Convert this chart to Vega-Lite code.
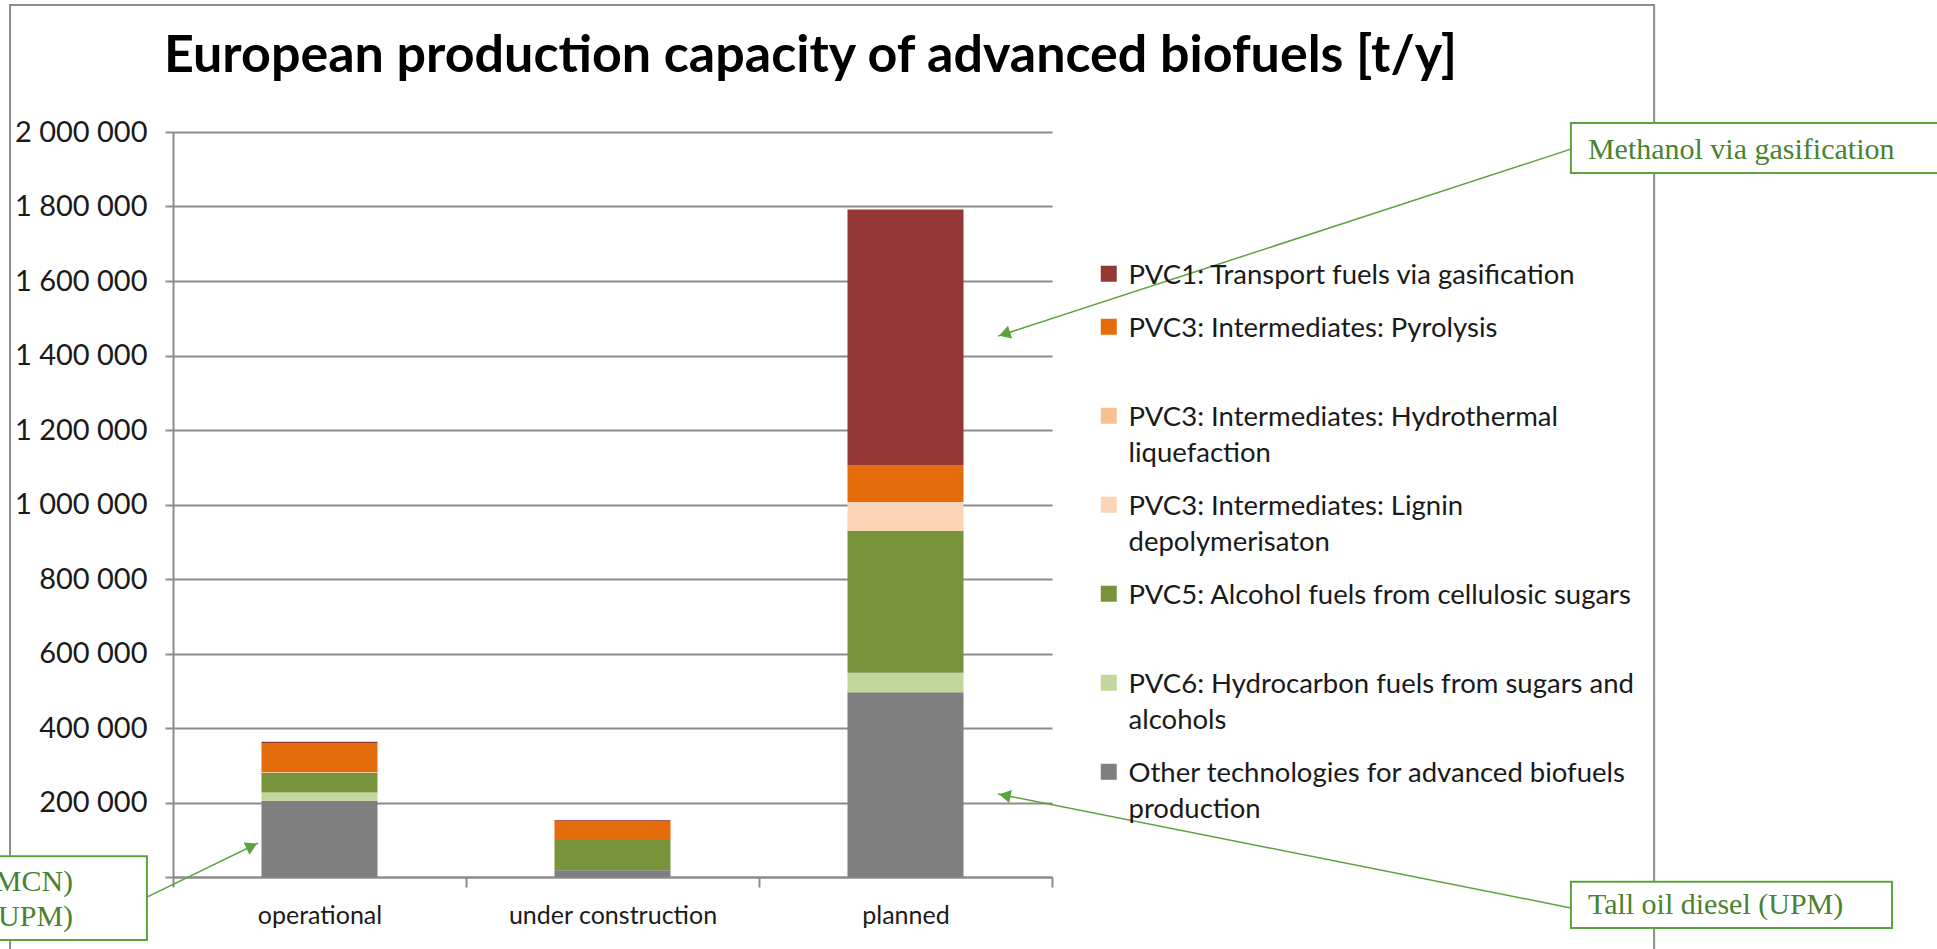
{
  "$schema": "https://vega.github.io/schema/vega-lite/v6.json",
  "autosize": {"type": "none"},
  "padding": {"left": 173, "top": 132, "right": 885, "bottom": 72},
  "width": 879,
  "height": 745,
  "background": "white",
  "title": {
    "text": "European production capacity of advanced biofuels [t/y]",
    "anchor": "start",
    "frame": "group",
    "dx": -9,
    "baseline": "alphabetic",
    "offset": -120,
    "font": "Lato",
    "fontSize": 52,
    "fontWeight": "bold",
    "color": "#000000"
  },
  "config": {
    "view": {"stroke": null},
    "style": {"guide-label": {"lineHeight": 36, "dy": -12}}
  },
  "resolve": {"scale": {"x": "independent", "y": "independent"}},
  "layer": [
    {
      "data": {"values": [{"u1": -0.556, "u2": 5.055, "v1": -223000, "v2": 2341000}]},
      "mark": {"type": "rect", "fill": null, "stroke": "#8c8c8c", "strokeWidth": 2},
      "encoding": {
        "x": {"field": "u1", "type": "quantitative", "scale": {"domain": [0, 3], "nice": false, "zero": false}, "axis": null},
        "x2": {"field": "u2"},
        "y": {"field": "v1", "type": "quantitative", "scale": {"domain": [0, 2000000], "nice": false, "zero": false}, "axis": null},
        "y2": {"field": "v2"}
      }
    },
    {
      "data": {"values": [
        {"status": "operational", "tech": "Other technologies for advanced biofuels production", "rank": 1, "capacity": 205000},
        {"status": "operational", "tech": "PVC6: Hydrocarbon fuels from sugars and alcohols", "rank": 2, "capacity": 22000},
        {"status": "operational", "tech": "PVC5: Alcohol fuels from cellulosic sugars", "rank": 3, "capacity": 53000},
        {"status": "operational", "tech": "PVC3: Intermediates: Lignin depolymerisaton", "rank": 4, "capacity": 0},
        {"status": "operational", "tech": "PVC3: Intermediates: Hydrothermal liquefaction", "rank": 5, "capacity": 2000},
        {"status": "operational", "tech": "PVC3: Intermediates: Pyrolysis", "rank": 6, "capacity": 78000},
        {"status": "operational", "tech": "PVC1: Transport fuels via gasification", "rank": 7, "capacity": 3000},
        {"status": "under construction", "tech": "Other technologies for advanced biofuels production", "rank": 1, "capacity": 18000},
        {"status": "under construction", "tech": "PVC6: Hydrocarbon fuels from sugars and alcohols", "rank": 2, "capacity": 0},
        {"status": "under construction", "tech": "PVC5: Alcohol fuels from cellulosic sugars", "rank": 3, "capacity": 81000},
        {"status": "under construction", "tech": "PVC3: Intermediates: Lignin depolymerisaton", "rank": 4, "capacity": 0},
        {"status": "under construction", "tech": "PVC3: Intermediates: Hydrothermal liquefaction", "rank": 5, "capacity": 0},
        {"status": "under construction", "tech": "PVC3: Intermediates: Pyrolysis", "rank": 6, "capacity": 52000},
        {"status": "under construction", "tech": "PVC1: Transport fuels via gasification", "rank": 7, "capacity": 2000},
        {"status": "planned", "tech": "Other technologies for advanced biofuels production", "rank": 1, "capacity": 496000},
        {"status": "planned", "tech": "PVC6: Hydrocarbon fuels from sugars and alcohols", "rank": 2, "capacity": 52000},
        {"status": "planned", "tech": "PVC5: Alcohol fuels from cellulosic sugars", "rank": 3, "capacity": 381000},
        {"status": "planned", "tech": "PVC3: Intermediates: Lignin depolymerisaton", "rank": 4, "capacity": 78000},
        {"status": "planned", "tech": "PVC3: Intermediates: Hydrothermal liquefaction", "rank": 5, "capacity": 0},
        {"status": "planned", "tech": "PVC3: Intermediates: Pyrolysis", "rank": 6, "capacity": 98000},
        {"status": "planned", "tech": "PVC1: Transport fuels via gasification", "rank": 7, "capacity": 687000}
      ]},
      "mark": {"type": "bar", "width": {"band": 0.396}},
      "encoding": {
        "x": {
          "field": "status", "type": "nominal", "sort": ["operational", "under construction", "planned"],
          "scale": {"paddingInner": 0, "paddingOuter": 0},
          "axis": {
            "title": null, "labelAngle": 0, "labelFont": "Lato", "labelFontSize": 25, "labelColor": "#1a1a1a",
            "labelPadding": 28, "labelLimit": 400, "tickBand": "extent", "tickSize": 10, "tickColor": "#8c8c8c", "tickWidth": 2,
            "domainColor": "#8c8c8c", "domainWidth": 2, "grid": false, "labelBaseline": "top"
          }
        },
        "y": {
          "field": "capacity", "type": "quantitative", "stack": "zero",
          "scale": {"domain": [0, 2000000], "nice": false},
          "axis": {
            "title": null, "values": [0, 200000, 400000, 600000, 800000, 1000000, 1200000, 1400000, 1600000, 1800000, 2000000],
            "labelExpr": "replace(format(datum.value, ',d'), regexp(',', 'g'), ' ')",
            "labelFont": "Lato", "labelFontSize": 29, "labelColor": "#1a1a1a", "labelPadding": 18, "labelOffset": 12,
            "tickSize": 8, "tickColor": "#8c8c8c", "tickWidth": 2,
            "domainColor": "#8c8c8c", "domainWidth": 2,
            "grid": true, "gridColor": "#8c8c8c", "gridWidth": 2
          }
        },
        "order": {"field": "rank", "type": "quantitative", "sort": "ascending"},
        "color": {
          "field": "tech", "type": "nominal",
          "scale": {
            "domain": ["PVC1: Transport fuels via gasification", "PVC3: Intermediates: Pyrolysis", "PVC3: Intermediates: Hydrothermal liquefaction", "PVC3: Intermediates: Lignin depolymerisaton", "PVC5: Alcohol fuels from cellulosic sugars", "PVC6: Hydrocarbon fuels from sugars and alcohols", "Other technologies for advanced biofuels production"],
            "range": ["#953735", "#E46C0A", "#FAC090", "#FCD5B5", "#77933C", "#C3D69B", "#7F7F7F"]
          },
          "legend": {
            "orient": "none", "legendX": 922, "legendY": 128, "title": null,
            "symbolType": "square", "symbolSize": 256, "symbolStrokeWidth": 0,
            "labelFont": "Lato", "labelFontSize": 27.5, "labelColor": "#1a1a1a", "labelLimit": 900,
            "labelOffset": 6, "rowPadding": 23, "labelBaseline": "top",
            "labelExpr": "datum.label == 'PVC3: Intermediates: Pyrolysis' ? ['PVC3: Intermediates: Pyrolysis', ''] : datum.label == 'PVC5: Alcohol fuels from cellulosic sugars' ? ['PVC5: Alcohol fuels from cellulosic sugars', ''] : datum.label == 'PVC3: Intermediates: Hydrothermal liquefaction' ? ['PVC3: Intermediates: Hydrothermal', 'liquefaction'] : datum.label == 'PVC3: Intermediates: Lignin depolymerisaton' ? ['PVC3: Intermediates: Lignin', 'depolymerisaton'] : datum.label == 'PVC6: Hydrocarbon fuels from sugars and alcohols' ? ['PVC6: Hydrocarbon fuels from sugars and', 'alcohols'] : datum.label == 'Other technologies for advanced biofuels production' ? ['Other technologies for advanced biofuels', 'production'] : datum.label"
          }
        }
      }
    },
    {
      "data": {"values": [
        {"u1": 4.771, "v1": 1954000, "u2": 2.816, "v2": 1452000},
        {"u1": 4.771, "v1": -83000, "u2": 2.816, "v2": 223000},
        {"u1": -0.089, "v1": -54000, "u2": 0.29, "v2": 91000}
      ]},
      "mark": {"type": "rule", "color": "#5CA23E", "strokeWidth": 1.5},
      "encoding": {
        "x": {"field": "u1", "type": "quantitative", "scale": {"domain": [0, 3], "nice": false, "zero": false}, "axis": null},
        "x2": {"field": "u2"},
        "y": {"field": "v1", "type": "quantitative", "scale": {"domain": [0, 2000000], "nice": false, "zero": false}, "axis": null},
        "y2": {"field": "v2"}
      }
    },
    {
      "data": {"values": [
        {"u": 2.838, "v": 1458000, "heading": 252},
        {"u": 2.839, "v": 219000, "heading": 281},
        {"u": 0.269, "v": 83000, "heading": 64}
      ]},
      "mark": {"type": "point", "shape": "triangle-up", "filled": true, "color": "#5CA23E", "size": 180, "opacity": 1},
      "encoding": {
        "x": {"field": "u", "type": "quantitative", "scale": {"domain": [0, 3], "nice": false, "zero": false}, "axis": null},
        "y": {"field": "v", "type": "quantitative", "scale": {"domain": [0, 2000000], "nice": false, "zero": false}, "axis": null},
        "angle": {"field": "heading", "type": "quantitative", "scale": null}
      }
    },
    {
      "data": {"values": [
        {"u1": 4.771, "u2": 6.5, "v1": 2024000, "v2": 1890000},
        {"u1": 4.771, "u2": 5.867, "v1": -13000, "v2": -137000},
        {"u1": -0.7, "u2": -0.089, "v1": 56000, "v2": -169000}
      ]},
      "mark": {"type": "rect", "fill": "white", "stroke": "#5CA23E", "strokeWidth": 2},
      "encoding": {
        "x": {"field": "u1", "type": "quantitative", "scale": {"domain": [0, 3], "nice": false, "zero": false}, "axis": null},
        "x2": {"field": "u2"},
        "y": {"field": "v1", "type": "quantitative", "scale": {"domain": [0, 2000000], "nice": false, "zero": false}, "axis": null},
        "y2": {"field": "v2"}
      }
    },
    {
      "data": {"values": [
        {"u": 4.829, "v": 1952000, "note": "Methanol via gasification"},
        {"u": 4.829, "v": -75000, "note": "Tall oil diesel (UPM)"}
      ]},
      "mark": {"type": "text", "align": "left", "baseline": "middle", "font": "Liberation Serif", "fontSize": 30, "color": "#4A8232"},
      "encoding": {
        "x": {"field": "u", "type": "quantitative", "scale": {"domain": [0, 3], "nice": false, "zero": false}, "axis": null},
        "y": {"field": "v", "type": "quantitative", "scale": {"domain": [0, 2000000], "nice": false, "zero": false}, "axis": null},
        "text": {"field": "note"}
      }
    },
    {
      "data": {"values": [
        {"u": -0.341, "v": -13000, "note": "MCN)"},
        {"u": -0.341, "v": -107000, "note": "(UPM)"}
      ]},
      "mark": {"type": "text", "align": "right", "baseline": "middle", "font": "Liberation Serif", "fontSize": 30, "color": "#4A8232"},
      "encoding": {
        "x": {"field": "u", "type": "quantitative", "scale": {"domain": [0, 3], "nice": false, "zero": false}, "axis": null},
        "y": {"field": "v", "type": "quantitative", "scale": {"domain": [0, 2000000], "nice": false, "zero": false}, "axis": null},
        "text": {"field": "note"}
      }
    }
  ]
}
